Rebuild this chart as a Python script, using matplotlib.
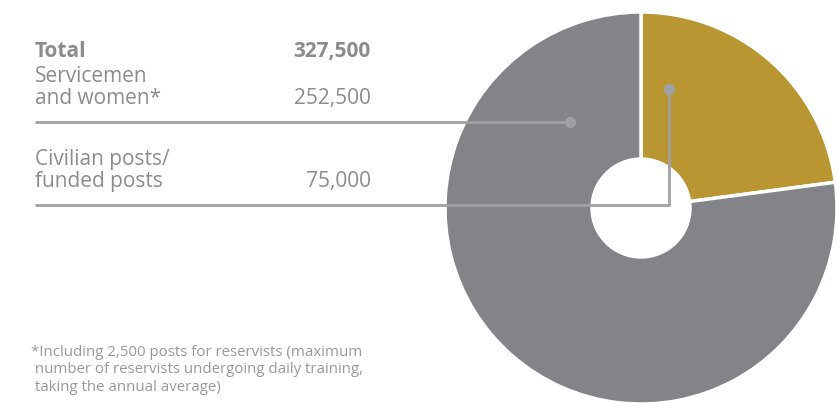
import matplotlib
matplotlib.use("Agg")
import matplotlib.pyplot as plt
from matplotlib.patches import Circle

labels = ["Civilian posts/\nfunded posts", "Servicemen\nand women*"]
values = [75000, 252500]
total = 327500
colors = ["#b99632", "#838487"]
value_labels = ["327,500", "252,500", "75,000"]
footnote = ["*Including 2,500 posts for reservists (maximum",
            " number of reservists undergoing daily training,",
            " taking the annual average)"]

W, H = 837, 403
fig = plt.figure(figsize=(W / 100, H / 100), dpi=100)
ax = fig.add_axes([0, 0, 1, 1])

cx, cy, R = 641, 208, 196
# y-axis is inverted below, so start at -90 (screen top) and run counterclockwise in data (clockwise on screen)
ax.pie(values, colors=colors, startangle=-90, counterclock=True,
       radius=R, center=(cx, cy), frame=True,
       wedgeprops=dict(edgecolor="white", linewidth=2.5))
ax.set_xlim(0, W)
ax.set_ylim(H, 0)
ax.set_aspect("equal")
ax.axis("off")
ax.add_patch(Circle((cx, cy), 50, color="white", zorder=5))

tc = "#8b8c8f"
lc = "#a0a1a4"
font = "Open Sans"
fs = 15
ax.text(35, 57, "Total", fontsize=fs, fontweight="bold", color=tc, family=font, va="baseline")
ax.text(371, 57, value_labels[0], fontsize=fs, fontweight="bold", color=tc, family=font, ha="right", va="baseline")
l1 = labels[1].split("\n")
ax.text(35, 82, l1[0], fontsize=fs, color=tc, family=font, va="baseline")
ax.text(35, 104, l1[1], fontsize=fs, color=tc, family=font, va="baseline")
ax.text(371, 104, value_labels[1], fontsize=fs, color=tc, family=font, ha="right", va="baseline")
l0 = labels[0].split("\n")
ax.text(35, 165, l0[0], fontsize=fs, color=tc, family=font, va="baseline")
ax.text(35, 187, l0[1], fontsize=fs, color=tc, family=font, va="baseline")
ax.text(371, 187, value_labels[2], fontsize=fs, color=tc, family=font, ha="right", va="baseline")

ax.plot([35, 570], [122, 122], color=lc, lw=2, zorder=6, solid_capstyle="butt")
ax.plot([570], [122], "o", color=lc, ms=7, zorder=6)
ax.plot([35, 669, 669], [205, 205, 89], color=lc, lw=2, zorder=6, solid_capstyle="butt")
ax.plot([669], [89], "o", color=lc, ms=7, zorder=6)

for i, line in enumerate(footnote):
    ax.text(31, 356 + 17.5 * i, line, fontsize=10.8, color="#98999c", family=font, va="baseline")

fig.savefig("out.png", dpi=100)
